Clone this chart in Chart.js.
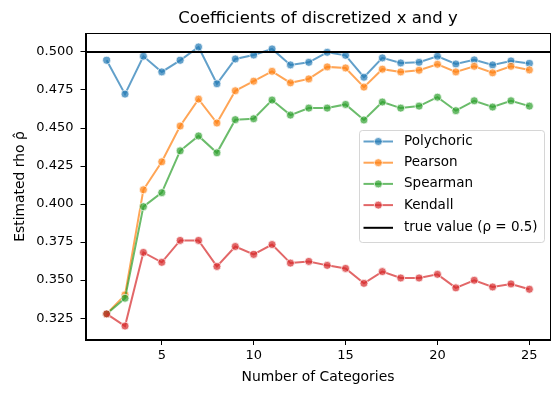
<!DOCTYPE html>
<html>
<head>
<meta charset="utf-8">
<script src="https://cdn.jsdelivr.net/npm/chart.js@4"></script>
<style>
  html, body { margin: 0; padding: 0; background: #fff; }
  #wrap { width: 559px; height: 393px; }
</style>
</head>
<body>
<div id="wrap"><canvas id="rhoChart" width="559" height="393"></canvas></div>
<script>
// number of categories on the x axis
const categories = [2, 3, 4, 5, 6, 7, 8, 9, 10, 11, 12, 13, 14, 15, 16, 17, 18, 19, 20, 21, 22, 23, 24, 25];

const polychoric = [0.4945, 0.4723, 0.4972, 0.4869, 0.4945, 0.5033, 0.4791, 0.4954, 0.4980, 0.5020, 0.4915, 0.4932,
                    0.4998, 0.4978, 0.4834, 0.4961, 0.4928, 0.4932, 0.4972, 0.4921, 0.4948, 0.4915, 0.4941, 0.4924];
const pearson = [0.3278, 0.3403, 0.4094, 0.4278, 0.4513, 0.4690, 0.4533, 0.4745, 0.4808, 0.4873, 0.4797, 0.4823,
                 0.4902, 0.4895, 0.4769, 0.4887, 0.4869, 0.4880, 0.4919, 0.4869, 0.4906, 0.4863, 0.4906, 0.4882];
const spearman = [0.3278, 0.3381, 0.3983, 0.4075, 0.4350, 0.4448, 0.4337, 0.4555, 0.4561, 0.4684, 0.4585, 0.4631,
                  0.4631, 0.4655, 0.4553, 0.4671, 0.4631, 0.4644, 0.4703, 0.4614, 0.4679, 0.4638, 0.4679, 0.4644];
const kendall = [0.3278, 0.3198, 0.3682, 0.3617, 0.3761, 0.3761, 0.3590, 0.3721, 0.3669, 0.3734, 0.3612, 0.3623,
                 0.3597, 0.3577, 0.3479, 0.3556, 0.3514, 0.3514, 0.3538, 0.3449, 0.3499, 0.3455, 0.3475, 0.3440];

const trueRho = 0.5;
const xTicks = [5, 10, 15, 20, 25];
const yTicks = [0.325, 0.350, 0.375, 0.400, 0.425, 0.450, 0.475, 0.500];

const FONT = "'DejaVu Sans', sans-serif";

// matplotlib style 5% margins around the data
const allY = polychoric.concat(pearson, spearman, kendall);
const yLo = Math.min(...allY), yHi = Math.max(...allY);
const xLo = Math.min(...categories), xHi = Math.max(...categories);
const yPad = (yHi - yLo) * 0.05, xPad = (xHi - xLo) * 0.05;

function series(label, values, rgb, order) {
  return {
    label: label,
    data: categories.map((c, i) => ({ x: c, y: values[i] })),
    borderColor: 'rgba(' + rgb + ',0.7)',
    backgroundColor: 'rgba(' + rgb + ',0.7)',
    pointBackgroundColor: 'rgba(' + rgb + ',0.7)',
    pointBorderColor: 'rgba(255,255,255,0.7)',
    pointBorderWidth: 1,
    pointRadius: 4,
    borderWidth: 2,
    tension: 0,
    order: order
  };
}

// frame, title, true value line and legend
const decorPlugin = {
  id: 'decor',
  afterDatasetsDraw(chart) {
    const ctx = chart.ctx;
    const a = chart.chartArea;
    const y = chart.scales.y.getPixelForValue(trueRho);
    ctx.save();
    ctx.beginPath();
    ctx.rect(a.left, a.top, a.right - a.left, a.bottom - a.top);
    ctx.clip();
    ctx.strokeStyle = '#000';
    ctx.lineWidth = 2;
    ctx.beginPath();
    ctx.moveTo(a.left, y);
    ctx.lineTo(a.right, y);
    ctx.stroke();
    ctx.restore();
  },
  afterDraw(chart) {
    const ctx = chart.ctx;
    const a = chart.chartArea;
    ctx.save();
    ctx.strokeStyle = '#000';
    ctx.lineWidth = 1;
    ctx.strokeRect(Math.round(a.left) + 0.5, Math.round(a.top) + 0.5,
                   Math.round(a.right - a.left) - 1, Math.round(a.bottom - a.top) - 1);

    // title
    ctx.fillStyle = '#000';
    ctx.font = '16.5px ' + FONT;
    ctx.textAlign = 'center';
    ctx.textBaseline = 'middle';
    ctx.fillText('Coefficients of discretized x and y', (a.left + a.right) / 2, 18.5);

    // legend (center right)
    const w = 185, h = 112;
    const lx = a.right - 6.5 - w;
    const ly = (a.top + a.bottom) / 2 - h / 2 - 1;
    ctx.fillStyle = 'rgba(255,255,255,0.8)';
    ctx.strokeStyle = 'rgba(204,204,204,0.8)';
    ctx.lineWidth = 1;
    ctx.beginPath();
    ctx.roundRect(Math.round(lx) + 0.5, Math.round(ly) + 0.5, w, h, 3);
    ctx.fill();
    ctx.stroke();

    const entries = chart.data.datasets.map(ds => ({ label: ds.label, color: ds.borderColor, marker: true }));
    entries.push({ label: 'true value (\u03c1 = 0.5)', color: '#000', marker: false });
    ctx.font = '13.5px ' + FONT;
    ctx.textAlign = 'left';
    entries.forEach((e, i) => {
      const ry = ly + 12 + i * 21.2 + (e.marker ? 0 : 1.5);
      ctx.strokeStyle = e.color;
      ctx.lineWidth = 2;
      ctx.beginPath();
      ctx.moveTo(lx + 4.5, ry);
      ctx.lineTo(lx + 34, ry);
      ctx.stroke();
      if (e.marker) {
        ctx.fillStyle = e.color;
        ctx.beginPath();
        ctx.arc(lx + 19.3, ry, 4, 0, Math.PI * 2);
        ctx.fill();
        ctx.strokeStyle = 'rgba(255,255,255,0.7)';
        ctx.lineWidth = 1;
        ctx.stroke();
      }
      ctx.fillStyle = '#000';
      ctx.fillText(e.label, lx + 45, ry);
    });
    ctx.restore();
  }
};

const ctxRho = document.getElementById('rhoChart').getContext('2d');

const rhoChart = new Chart(ctxRho, {
  type: 'line',
  data: {
    datasets: [
      series('Polychoric', polychoric, '31,119,180', 4),
      series('Pearson', pearson, '255,127,14', 3),
      series('Spearman', spearman, '44,160,44', 2),
      series('Kendall', kendall, '214,39,40', 1)
    ]
  },
  options: {
    responsive: false,
    animation: false,
    layout: { padding: { left: 0, top: 33, right: 8.5, bottom: 0 } },
    plugins: {
      legend: { display: false },
      title: { display: false },
      tooltip: { enabled: false }
    },
    scales: {
      x: {
        type: 'linear',
        min: xLo - xPad,
        max: xHi + xPad,
        afterBuildTicks: (axis) => { axis.ticks = xTicks.map(v => ({ value: v })); },
        afterFit: (axis) => { axis.height = 53; },
        ticks: { color: '#000', font: { family: FONT, size: 13 }, padding: 3, maxRotation: 0,
                 callback: (v) => String(v) },
        grid: { drawOnChartArea: false, drawTicks: true, tickLength: 5, tickColor: '#000', tickWidth: 1 },
        border: { display: true, color: '#000', width: 1 },
        title: { display: true, text: 'Number of Categories', color: '#000',
                 font: { family: FONT, size: 13.9 }, padding: { top: 4, bottom: 7 } }
      },
      y: {
        min: yLo - yPad,
        max: yHi + yPad,
        afterBuildTicks: (axis) => { axis.ticks = yTicks.map(v => ({ value: v })); },
        afterFit: (axis) => { axis.width = 85.5; },
        ticks: { color: '#000', font: { family: FONT, size: 13 }, padding: 7,
                 callback: (v) => v.toFixed(3) },
        grid: { drawOnChartArea: false, drawTicks: true, tickLength: 5, tickColor: '#000', tickWidth: 1 },
        border: { display: true, color: '#000', width: 1 },
        title: { display: true, text: 'Estimated rho \u03c1\u0302', color: '#000',
                 font: { family: FONT, size: 13.9 }, padding: { top: 12, bottom: 4 } }
      }
    }
  },
  plugins: [decorPlugin]
});
</script>
</body>
</html>
